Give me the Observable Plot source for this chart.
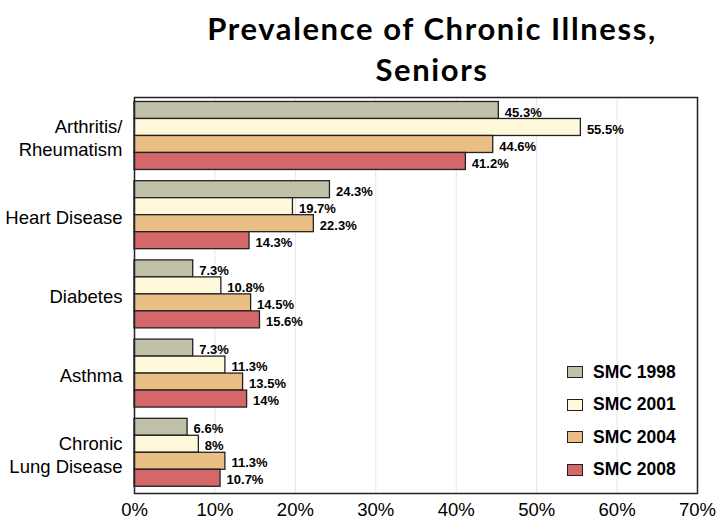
<!DOCTYPE html>
<html>
<head>
<meta charset="utf-8">
<script src="https://cdn.jsdelivr.net/npm/d3@7"></script>
<script src="https://cdn.jsdelivr.net/npm/@observablehq/plot@0.6"></script>
<style>
  html, body { margin: 0; padding: 0; background: #fff; }
  #wrap { position: relative; width: 717px; height: 525px; overflow: hidden; }
  #title { position: absolute; left: 0; top: 8px; width: 864px; text-align: center;
    font-family: Lato, "Open Sans", sans-serif; font-weight: bold; font-size: 31px; line-height: 41px;
    letter-spacing: 1.6px; color: #000; }
  #legend { position: absolute; left: 567px; top: 356px;
    font-family: "Liberation Sans", Arial, sans-serif; font-weight: bold; font-size: 17.5px; color: #000; }
  .item { display: flex; align-items: center; height: 32.5px; }
  .sw { width: 14px; height: 10px; border: 1.5px solid #222; margin-right: 10px; }
  svg text { font-family: "Liberation Sans", Arial, sans-serif; }
</style>
</head>
<body>
<div id="wrap">
  <div id="chart"></div>
  <div id="title">Prevalence of Chronic Illness,<br>Seniors</div>
  <div id="legend"></div>
</div>
<script>
const categories = ["Arthritis/\nRheumatism", "Heart Disease", "Diabetes", "Asthma", "Chronic\nLung Disease"];
const series = ["SMC 1998", "SMC 2001", "SMC 2004", "SMC 2008"];
const smc1998 = [45.3, 24.3, 7.3, 7.3, 6.6];
const smc2001 = [55.5, 19.7, 10.8, 11.3, 8];
const smc2004 = [44.6, 22.3, 14.5, 13.5, 11.3];
const smc2008 = [41.2, 14.3, 15.6, 14, 10.7];
const xTicks = [0, 10, 20, 30, 40, 50, 60, 70];
const colors = ["#c1c1a9", "#fff9dc", "#e9bf85", "#d4676a"];

const seriesValues = [smc1998, smc2001, smc2004, smc2008];
const data = [];
categories.forEach((c, i) => {
  series.forEach((s, j) => data.push({category: c, series: s, value: seriesValues[j][i]}));
});

const chart = Plot.plot({
  width: 717,
  height: 525,
  marginLeft: 134,
  marginRight: 20,
  marginTop: 97,
  marginBottom: 32,
  x: {domain: [0, 70]},
  y: {domain: series, paddingInner: 0, paddingOuter: 0.33, align: 0.4, round: false, axis: null},
  fy: {domain: categories, padding: 0, round: false},
  color: {domain: series, range: colors},
  marks: [
    Plot.ruleX(xTicks.slice(1, -1), {stroke: "#e6e6e6", strokeWidth: 1}),
    Plot.barX(data, {x: "value", y: "series", fy: "category", fill: "series", stroke: "#222", strokeWidth: 1.3}),
    Plot.text(data, {x: "value", y: "series", fy: "category", text: d => d.value + "%", textAnchor: "start", dx: 6, dy: 2,
      fontSize: 13, fontWeight: "bold", fill: "#000"}),
    Plot.frame({stroke: "#222", strokeWidth: 1.5, facet: "super"}),
    Plot.axisFy({anchor: "left", label: null, tickSize: 0, tickPadding: 12, fontSize: 18.5, lineHeight: 1.25, fill: "#000"}),
    Plot.axisX({ticks: xTicks, tickFormat: d => d + "%", label: null, tickSize: 0, tickPadding: 9, fontSize: 18.5, fill: "#000"})
  ]
});
document.getElementById("chart").appendChild(chart);

const legend = document.getElementById("legend");
series.forEach((s, j) => {
  const it = document.createElement("div");
  it.className = "item";
  const sw = document.createElement("div");
  sw.className = "sw";
  sw.style.background = colors[j];
  const t = document.createElement("span");
  t.textContent = s;
  it.appendChild(sw); it.appendChild(t);
  legend.appendChild(it);
});
</script>
</body>
</html>
